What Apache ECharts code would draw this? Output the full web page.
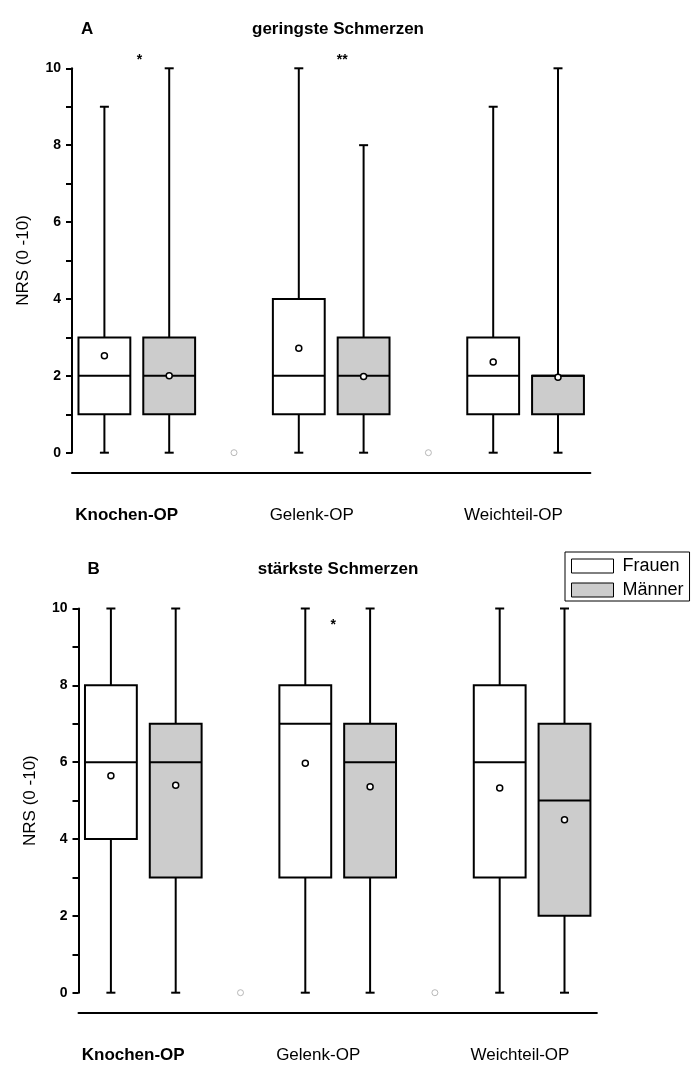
<!DOCTYPE html>
<html><head><meta charset="utf-8">
<script src="https://cdn.jsdelivr.net/npm/echarts@6/dist/echarts.min.js"></script>
<style>html,body{margin:0;padding:0;background:#fff}#c{width:698px;height:1066px}</style>
</head><body><div id="c"></div>
<script>
// ---- data ----
const groups = ['Knochen-OP', 'Gelenk-OP', 'Weichteil-OP'];
const seriesNames = ['Frauen', 'Männer'];
const panelTitles = ['geringste Schmerzen', 'stärkste Schmerzen'];
const panelLetters = ['A', 'B'];
const yTicks = [0, 2, 4, 6, 8, 10];
// five-number summaries [min, Q1, median, Q3, max] per group
const A_frauen = [[0, 1, 2, 3, 9], [0, 1, 2, 4, 10], [0, 1, 2, 3, 9]];
const A_maenner = [[0, 1, 2, 3, 10], [0, 1, 2, 3, 8], [0, 1, 2, 2, 10]];
const A_meanF = [2.52, 2.72, 2.36];
const A_meanM = [2.0, 1.98, 1.96];
const B_frauen = [[0, 4, 6, 8, 10], [0, 3, 7, 8, 10], [0, 3, 6, 8, 10]];
const B_maenner = [[0, 3, 6, 7, 10], [0, 3, 6, 7, 10], [0, 2, 5, 7, 10]];
const B_meanF = [5.65, 5.97, 5.33];
const B_meanM = [5.4, 5.36, 4.5];
// stray points between groups (slot, value)
const strayPts = [[2, 0], [5, 0]];
// significance marks [slot position, value, text]
const A_sig = [[0.54, 10.2, '*'], [3.67, 10.2, '**']];
const B_sig = [[3.43, 9.56, '*']];

const FONT = 'Liberation Sans, Arial, sans-serif';
const GRAY = '#cccccc';

function slotOf(g, s) { return g * 3 + s; }
function boxData(arr, s) { return arr.map((v, g) => [slotOf(g, s)].concat(v)); }
function meanData(arr, s) { return arr.map((v, g) => [slotOf(g, s), v]); }

function renderBox(params, api) {
  const x = api.value(0);
  const mn = api.coord([x, api.value(1)]);
  const q1 = api.coord([x, api.value(2)]);
  const md = api.coord([x, api.value(3)]);
  const q3 = api.coord([x, api.value(4)]);
  const mx = api.coord([x, api.value(5)]);
  const bw = api.size([1, 0])[0] * 0.8;
  const cap = 9;
  const cx = mn[0];
  const ls = { stroke: '#000', lineWidth: 2 };
  const fill = api.visual('color');
  return {
    type: 'group',
    children: [
      { type: 'line', shape: { x1: cx, y1: q3[1], x2: cx, y2: mx[1] }, style: ls },
      { type: 'line', shape: { x1: cx, y1: q1[1], x2: cx, y2: mn[1] }, style: ls },
      { type: 'line', shape: { x1: cx - cap / 2, y1: mx[1], x2: cx + cap / 2, y2: mx[1] }, style: ls },
      { type: 'line', shape: { x1: cx - cap / 2, y1: mn[1], x2: cx + cap / 2, y2: mn[1] }, style: ls },
      { type: 'rect', shape: { x: cx - bw / 2, y: q3[1], width: bw, height: q1[1] - q3[1] }, style: { fill: fill, stroke: '#000', lineWidth: 2 } },
      { type: 'line', shape: { x1: cx - bw / 2, y1: md[1], x2: cx + bw / 2, y2: md[1] }, style: ls }
    ]
  };
}

function renderSig(params, api) {
  const p = api.coord([api.value(0), api.value(1)]);
  return {
    type: 'text', x: p[0], y: p[1],
    style: { text: api.value(2), fill: '#000', font: 'bold 14px ' + FONT, align: 'center', verticalAlign: 'middle' }
  };
}

const panels = [
  { F: A_frauen, M: A_maenner, mF: A_meanF, mM: A_meanM, sig: A_sig, grid: { left: 72, top: 68.3, width: 518.4, height: 384.4 } },
  { F: B_frauen, M: B_maenner, mF: B_meanF, mM: B_meanM, sig: B_sig, grid: { left: 78.5, top: 608.5, width: 518.4, height: 384.2 } }
];

const grids = [], xAxes = [], yAxes = [], series = [], titles = [];
panels.forEach((p, i) => {
  grids.push(p.grid);
  xAxes.push({
    type: 'value', gridIndex: i, min: -0.5, max: 7.5,
    axisLine: { show: true, onZero: false, lineStyle: { color: '#000', width: 2 } },
    offset: 20, axisTick: { show: false }, axisLabel: { show: false }, splitLine: { show: false }
  });
  yAxes.push({
    type: 'value', gridIndex: i, min: 0, max: 10, interval: 1,
    name: 'NRS (0 -10)', nameLocation: 'middle', nameGap: 40, nameRotate: 90,
    nameTextStyle: { fontFamily: FONT, fontSize: 17, color: '#000' },
    axisLine: { show: true, onZero: false, lineStyle: { color: '#000', width: 2 } },
    axisTick: { show: true, length: 6, lineStyle: { color: '#000', width: 2 } },
    axisLabel: { fontFamily: FONT, fontWeight: 'bold', fontSize: 14, color: '#000', margin: 11,
      formatter: v => yTicks.indexOf(v) >= 0 ? String(v) : '' },
    splitLine: { show: false }
  });
  [p.F, p.M].forEach((arr, s) => {
    series.push({
      type: 'custom', name: seriesNames[s], xAxisIndex: i, yAxisIndex: i,
      itemStyle: { color: s === 0 ? '#ffffff' : GRAY, borderColor: '#000', borderWidth: 1 },
      renderItem: renderBox, data: boxData(arr, s), clip: false, z: 2
    });
  });
  [p.mF, p.mM].forEach((arr, s) => {
    series.push({
      type: 'scatter', name: seriesNames[s], xAxisIndex: i, yAxisIndex: i, z: 5,
      symbol: 'circle', symbolSize: 6,
      itemStyle: { color: '#fff', borderColor: '#000', borderWidth: 1.5, opacity: 1 },
      data: meanData(arr, s), silent: true
    });
  });
  series.push({
    type: 'scatter', name: 'stray' + i, xAxisIndex: i, yAxisIndex: i, z: 5,
    symbol: 'circle', symbolSize: 6, clip: false,
    itemStyle: { color: '#fff', borderColor: '#a8a8a8', borderWidth: 1 },
    data: strayPts
  });
  series.push({
    type: 'custom', name: 'sig' + i, xAxisIndex: i, yAxisIndex: i, clip: false,
    renderItem: renderSig, data: p.sig, z: 6
  });
  const top = i === 0 ? 16 : 556;
  titles.push({ text: panelLetters[i], left: p.grid.left + 4, top: top, textStyle: { fontFamily: FONT, fontSize: 17, fontWeight: 'bold', color: '#000' } });
  titles.push({ text: panelTitles[i], left: 333, top: top, textAlign: 'center', textStyle: { fontFamily: FONT, fontSize: 17, fontWeight: 'bold', color: '#000' } });
});

const chart = echarts.init(document.getElementById('c'), null, { renderer: 'canvas' });
chart.setOption({
  animation: false,
  backgroundColor: '#fff',
  title: titles,
  grid: grids,
  xAxis: xAxes,
  yAxis: yAxes,
  legend: {
    left: 565, top: 552, orient: 'vertical',
    data: [
      { name: 'Frauen', icon: 'rect', itemStyle: { color: '#fff', borderColor: '#000', borderWidth: 1 } },
      { name: 'Männer', icon: 'rect', itemStyle: { color: GRAY, borderColor: '#000', borderWidth: 1 } }
    ],
    itemWidth: 42, itemHeight: 14, itemGap: 6,
    borderColor: '#000', borderWidth: 1, padding: [5, 6, 2, 6],
    textStyle: { fontFamily: FONT, fontSize: 18, color: '#000', padding: [0, 0, 0, 4] },
    selectedMode: false
  },
  series: series
});

// group labels under each panel, aligned to the slot scale
const graphics = [];
panels.forEach((p, i) => {
  groups.forEach((g, k) => {
    const pt = chart.convertToPixel({ xAxisIndex: i, yAxisIndex: i }, [k * 3 - 0.45, 0]);
    graphics.push({
      type: 'text', left: pt[0], top: pt[1] + 54,
      style: { text: g, font: (k === 0 ? 'bold ' : '') + '17px ' + FONT, fill: '#000' }
    });
  });
});
chart.setOption({ graphic: graphics });
</script>
</body></html>
